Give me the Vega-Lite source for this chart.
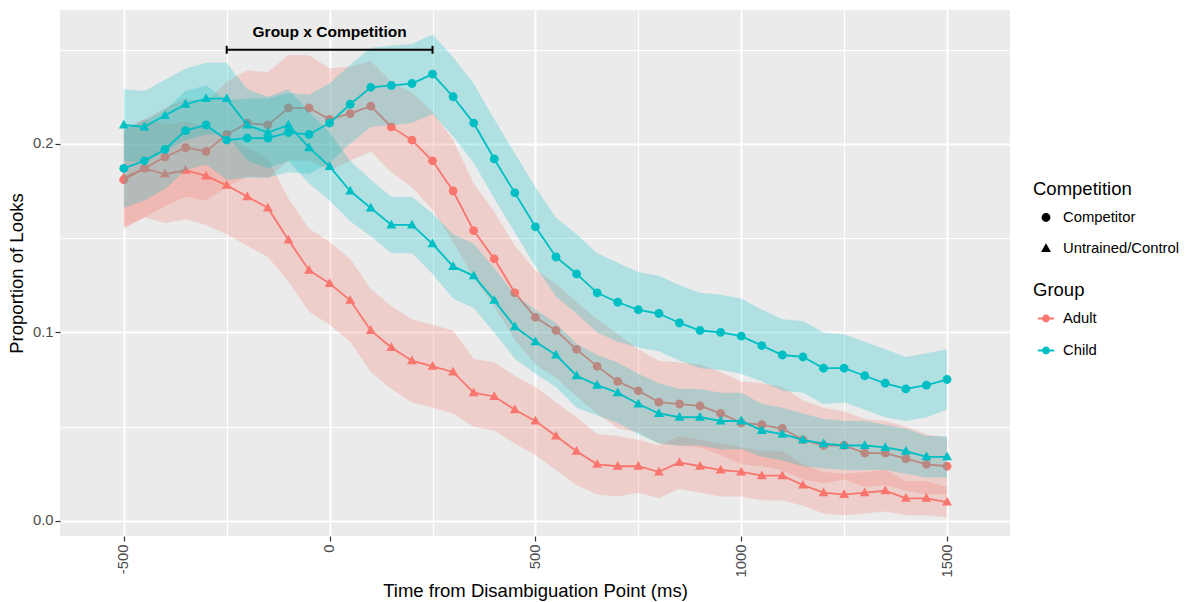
{
  "$schema": "https://vega.github.io/schema/vega-lite/v6.json",
  "width": 950,
  "height": 526,
  "autosize": {"type": "none"},
  "padding": {"left": 60, "top": 10, "right": 181, "bottom": 66},
  "background": "white",
  "config": {
    "font": "Liberation Sans",
    "view": {"fill": "#EBEBEB", "stroke": null},
    "axis": {
      "domain": false,
      "labelFont": "Liberation Sans",
      "labelFontSize": 14.8,
      "labelColor": "#4D4D4D",
      "tickColor": "#333333",
      "tickSize": 5,
      "tickWidth": 1.2,
      "titleFont": "Liberation Sans",
      "titleFontSize": 18.5,
      "titleFontWeight": "normal",
      "titleColor": "#000000",
      "gridColor": "#FFFFFF",
      "gridOpacity": 1
    },
    "legend": {
      "titleFont": "Liberation Sans",
      "labelFont": "Liberation Sans",
      "titleFontSize": 18.5,
      "titleFontWeight": "normal",
      "titleColor": "#000000",
      "labelFontSize": 14.8,
      "labelColor": "#000000"
    }
  },
  "datasets": {
    "ann": [
      {"x1": -250, "x2": 250, "ym": 0.2499, "y1": 0.2478, "y2": 0.2520, "xt": 0, "yt": 0.2566, "label": "Group x Competition"}
    ],
    "main": [
      {"t": -500, "g": "Adult", "c": "Competitor", "y": 0.181, "lo": 0.155, "hi": 0.207},
      {"t": -450, "g": "Adult", "c": "Competitor", "y": 0.187, "lo": 0.161, "hi": 0.213},
      {"t": -400, "g": "Adult", "c": "Competitor", "y": 0.193, "lo": 0.167, "hi": 0.219},
      {"t": -350, "g": "Adult", "c": "Competitor", "y": 0.198, "lo": 0.172, "hi": 0.224},
      {"t": -300, "g": "Adult", "c": "Competitor", "y": 0.196, "lo": 0.170, "hi": 0.222},
      {"t": -250, "g": "Adult", "c": "Competitor", "y": 0.205, "lo": 0.177, "hi": 0.233},
      {"t": -200, "g": "Adult", "c": "Competitor", "y": 0.211, "lo": 0.183, "hi": 0.239},
      {"t": -150, "g": "Adult", "c": "Competitor", "y": 0.210, "lo": 0.182, "hi": 0.238},
      {"t": -100, "g": "Adult", "c": "Competitor", "y": 0.219, "lo": 0.191, "hi": 0.247},
      {"t": -50, "g": "Adult", "c": "Competitor", "y": 0.219, "lo": 0.191, "hi": 0.247},
      {"t": 0, "g": "Adult", "c": "Competitor", "y": 0.213, "lo": 0.186, "hi": 0.240},
      {"t": 50, "g": "Adult", "c": "Competitor", "y": 0.216, "lo": 0.191, "hi": 0.241},
      {"t": 100, "g": "Adult", "c": "Competitor", "y": 0.220, "lo": 0.196, "hi": 0.244},
      {"t": 150, "g": "Adult", "c": "Competitor", "y": 0.209, "lo": 0.185, "hi": 0.233},
      {"t": 200, "g": "Adult", "c": "Competitor", "y": 0.202, "lo": 0.177, "hi": 0.227},
      {"t": 250, "g": "Adult", "c": "Competitor", "y": 0.191, "lo": 0.165, "hi": 0.217},
      {"t": 300, "g": "Adult", "c": "Competitor", "y": 0.175, "lo": 0.148, "hi": 0.202},
      {"t": 350, "g": "Adult", "c": "Competitor", "y": 0.154, "lo": 0.129, "hi": 0.179},
      {"t": 400, "g": "Adult", "c": "Competitor", "y": 0.139, "lo": 0.114, "hi": 0.164},
      {"t": 450, "g": "Adult", "c": "Competitor", "y": 0.121, "lo": 0.096, "hi": 0.146},
      {"t": 500, "g": "Adult", "c": "Competitor", "y": 0.108, "lo": 0.083, "hi": 0.133},
      {"t": 550, "g": "Adult", "c": "Competitor", "y": 0.101, "lo": 0.076, "hi": 0.126},
      {"t": 600, "g": "Adult", "c": "Competitor", "y": 0.091, "lo": 0.066, "hi": 0.116},
      {"t": 650, "g": "Adult", "c": "Competitor", "y": 0.082, "lo": 0.057, "hi": 0.107},
      {"t": 700, "g": "Adult", "c": "Competitor", "y": 0.074, "lo": 0.049, "hi": 0.099},
      {"t": 750, "g": "Adult", "c": "Competitor", "y": 0.069, "lo": 0.047, "hi": 0.091},
      {"t": 800, "g": "Adult", "c": "Competitor", "y": 0.063, "lo": 0.041, "hi": 0.085},
      {"t": 850, "g": "Adult", "c": "Competitor", "y": 0.062, "lo": 0.040, "hi": 0.084},
      {"t": 900, "g": "Adult", "c": "Competitor", "y": 0.061, "lo": 0.039, "hi": 0.083},
      {"t": 950, "g": "Adult", "c": "Competitor", "y": 0.057, "lo": 0.035, "hi": 0.079},
      {"t": 1000, "g": "Adult", "c": "Competitor", "y": 0.052, "lo": 0.030, "hi": 0.074},
      {"t": 1050, "g": "Adult", "c": "Competitor", "y": 0.051, "lo": 0.029, "hi": 0.073},
      {"t": 1100, "g": "Adult", "c": "Competitor", "y": 0.049, "lo": 0.027, "hi": 0.071},
      {"t": 1150, "g": "Adult", "c": "Competitor", "y": 0.043, "lo": 0.022, "hi": 0.064},
      {"t": 1200, "g": "Adult", "c": "Competitor", "y": 0.040, "lo": 0.020, "hi": 0.060},
      {"t": 1250, "g": "Adult", "c": "Competitor", "y": 0.040, "lo": 0.022, "hi": 0.058},
      {"t": 1300, "g": "Adult", "c": "Competitor", "y": 0.036, "lo": 0.018, "hi": 0.054},
      {"t": 1350, "g": "Adult", "c": "Competitor", "y": 0.036, "lo": 0.019, "hi": 0.053},
      {"t": 1400, "g": "Adult", "c": "Competitor", "y": 0.033, "lo": 0.016, "hi": 0.050},
      {"t": 1450, "g": "Adult", "c": "Competitor", "y": 0.030, "lo": 0.014, "hi": 0.046},
      {"t": 1500, "g": "Adult", "c": "Competitor", "y": 0.029, "lo": 0.014, "hi": 0.044},

      {"t": -500, "g": "Adult", "c": "Untrained/Control", "y": 0.182, "lo": 0.156, "hi": 0.208},
      {"t": -450, "g": "Adult", "c": "Untrained/Control", "y": 0.187, "lo": 0.161, "hi": 0.213},
      {"t": -400, "g": "Adult", "c": "Untrained/Control", "y": 0.184, "lo": 0.158, "hi": 0.210},
      {"t": -350, "g": "Adult", "c": "Untrained/Control", "y": 0.186, "lo": 0.160, "hi": 0.212},
      {"t": -300, "g": "Adult", "c": "Untrained/Control", "y": 0.183, "lo": 0.157, "hi": 0.209},
      {"t": -250, "g": "Adult", "c": "Untrained/Control", "y": 0.178, "lo": 0.152, "hi": 0.204},
      {"t": -200, "g": "Adult", "c": "Untrained/Control", "y": 0.172, "lo": 0.146, "hi": 0.198},
      {"t": -150, "g": "Adult", "c": "Untrained/Control", "y": 0.166, "lo": 0.140, "hi": 0.192},
      {"t": -100, "g": "Adult", "c": "Untrained/Control", "y": 0.149, "lo": 0.127, "hi": 0.171},
      {"t": -50, "g": "Adult", "c": "Untrained/Control", "y": 0.133, "lo": 0.111, "hi": 0.155},
      {"t": 0, "g": "Adult", "c": "Untrained/Control", "y": 0.126, "lo": 0.104, "hi": 0.148},
      {"t": 50, "g": "Adult", "c": "Untrained/Control", "y": 0.117, "lo": 0.095, "hi": 0.139},
      {"t": 100, "g": "Adult", "c": "Untrained/Control", "y": 0.101, "lo": 0.079, "hi": 0.123},
      {"t": 150, "g": "Adult", "c": "Untrained/Control", "y": 0.092, "lo": 0.070, "hi": 0.114},
      {"t": 200, "g": "Adult", "c": "Untrained/Control", "y": 0.085, "lo": 0.063, "hi": 0.107},
      {"t": 250, "g": "Adult", "c": "Untrained/Control", "y": 0.082, "lo": 0.060, "hi": 0.104},
      {"t": 300, "g": "Adult", "c": "Untrained/Control", "y": 0.079, "lo": 0.057, "hi": 0.101},
      {"t": 350, "g": "Adult", "c": "Untrained/Control", "y": 0.068, "lo": 0.050, "hi": 0.086},
      {"t": 400, "g": "Adult", "c": "Untrained/Control", "y": 0.066, "lo": 0.048, "hi": 0.084},
      {"t": 450, "g": "Adult", "c": "Untrained/Control", "y": 0.059, "lo": 0.041, "hi": 0.077},
      {"t": 500, "g": "Adult", "c": "Untrained/Control", "y": 0.053, "lo": 0.035, "hi": 0.071},
      {"t": 550, "g": "Adult", "c": "Untrained/Control", "y": 0.045, "lo": 0.027, "hi": 0.063},
      {"t": 600, "g": "Adult", "c": "Untrained/Control", "y": 0.037, "lo": 0.019, "hi": 0.055},
      {"t": 650, "g": "Adult", "c": "Untrained/Control", "y": 0.030, "lo": 0.014, "hi": 0.046},
      {"t": 700, "g": "Adult", "c": "Untrained/Control", "y": 0.029, "lo": 0.013, "hi": 0.045},
      {"t": 750, "g": "Adult", "c": "Untrained/Control", "y": 0.029, "lo": 0.015, "hi": 0.043},
      {"t": 800, "g": "Adult", "c": "Untrained/Control", "y": 0.026, "lo": 0.012, "hi": 0.040},
      {"t": 850, "g": "Adult", "c": "Untrained/Control", "y": 0.031, "lo": 0.017, "hi": 0.045},
      {"t": 900, "g": "Adult", "c": "Untrained/Control", "y": 0.029, "lo": 0.015, "hi": 0.043},
      {"t": 950, "g": "Adult", "c": "Untrained/Control", "y": 0.027, "lo": 0.013, "hi": 0.041},
      {"t": 1000, "g": "Adult", "c": "Untrained/Control", "y": 0.026, "lo": 0.013, "hi": 0.039},
      {"t": 1050, "g": "Adult", "c": "Untrained/Control", "y": 0.024, "lo": 0.011, "hi": 0.037},
      {"t": 1100, "g": "Adult", "c": "Untrained/Control", "y": 0.024, "lo": 0.011, "hi": 0.037},
      {"t": 1150, "g": "Adult", "c": "Untrained/Control", "y": 0.019, "lo": 0.008, "hi": 0.030},
      {"t": 1200, "g": "Adult", "c": "Untrained/Control", "y": 0.015, "lo": 0.004, "hi": 0.026},
      {"t": 1250, "g": "Adult", "c": "Untrained/Control", "y": 0.014, "lo": 0.003, "hi": 0.025},
      {"t": 1300, "g": "Adult", "c": "Untrained/Control", "y": 0.015, "lo": 0.004, "hi": 0.026},
      {"t": 1350, "g": "Adult", "c": "Untrained/Control", "y": 0.016, "lo": 0.005, "hi": 0.027},
      {"t": 1400, "g": "Adult", "c": "Untrained/Control", "y": 0.012, "lo": 0.003, "hi": 0.021},
      {"t": 1450, "g": "Adult", "c": "Untrained/Control", "y": 0.012, "lo": 0.003, "hi": 0.021},
      {"t": 1500, "g": "Adult", "c": "Untrained/Control", "y": 0.010, "lo": 0.002, "hi": 0.018},

      {"t": -500, "g": "Child", "c": "Competitor", "y": 0.187, "lo": 0.166, "hi": 0.208},
      {"t": -450, "g": "Child", "c": "Competitor", "y": 0.191, "lo": 0.170, "hi": 0.212},
      {"t": -400, "g": "Child", "c": "Competitor", "y": 0.197, "lo": 0.176, "hi": 0.218},
      {"t": -350, "g": "Child", "c": "Competitor", "y": 0.207, "lo": 0.186, "hi": 0.228},
      {"t": -300, "g": "Child", "c": "Competitor", "y": 0.210, "lo": 0.189, "hi": 0.231},
      {"t": -250, "g": "Child", "c": "Competitor", "y": 0.202, "lo": 0.181, "hi": 0.223},
      {"t": -200, "g": "Child", "c": "Competitor", "y": 0.203, "lo": 0.182, "hi": 0.224},
      {"t": -150, "g": "Child", "c": "Competitor", "y": 0.203, "lo": 0.182, "hi": 0.224},
      {"t": -100, "g": "Child", "c": "Competitor", "y": 0.206, "lo": 0.185, "hi": 0.227},
      {"t": -50, "g": "Child", "c": "Competitor", "y": 0.205, "lo": 0.184, "hi": 0.226},
      {"t": 0, "g": "Child", "c": "Competitor", "y": 0.211, "lo": 0.190, "hi": 0.232},
      {"t": 50, "g": "Child", "c": "Competitor", "y": 0.221, "lo": 0.200, "hi": 0.242},
      {"t": 100, "g": "Child", "c": "Competitor", "y": 0.230, "lo": 0.209, "hi": 0.251},
      {"t": 150, "g": "Child", "c": "Competitor", "y": 0.231, "lo": 0.210, "hi": 0.252},
      {"t": 200, "g": "Child", "c": "Competitor", "y": 0.232, "lo": 0.211, "hi": 0.253},
      {"t": 250, "g": "Child", "c": "Competitor", "y": 0.237, "lo": 0.216, "hi": 0.258},
      {"t": 300, "g": "Child", "c": "Competitor", "y": 0.225, "lo": 0.204, "hi": 0.246},
      {"t": 350, "g": "Child", "c": "Competitor", "y": 0.211, "lo": 0.190, "hi": 0.232},
      {"t": 400, "g": "Child", "c": "Competitor", "y": 0.192, "lo": 0.171, "hi": 0.213},
      {"t": 450, "g": "Child", "c": "Competitor", "y": 0.174, "lo": 0.153, "hi": 0.195},
      {"t": 500, "g": "Child", "c": "Competitor", "y": 0.156, "lo": 0.135, "hi": 0.177},
      {"t": 550, "g": "Child", "c": "Competitor", "y": 0.140, "lo": 0.119, "hi": 0.161},
      {"t": 600, "g": "Child", "c": "Competitor", "y": 0.131, "lo": 0.110, "hi": 0.152},
      {"t": 650, "g": "Child", "c": "Competitor", "y": 0.121, "lo": 0.100, "hi": 0.142},
      {"t": 700, "g": "Child", "c": "Competitor", "y": 0.116, "lo": 0.095, "hi": 0.137},
      {"t": 750, "g": "Child", "c": "Competitor", "y": 0.112, "lo": 0.092, "hi": 0.132},
      {"t": 800, "g": "Child", "c": "Competitor", "y": 0.110, "lo": 0.090, "hi": 0.130},
      {"t": 850, "g": "Child", "c": "Competitor", "y": 0.105, "lo": 0.085, "hi": 0.125},
      {"t": 900, "g": "Child", "c": "Competitor", "y": 0.101, "lo": 0.081, "hi": 0.121},
      {"t": 950, "g": "Child", "c": "Competitor", "y": 0.100, "lo": 0.080, "hi": 0.120},
      {"t": 1000, "g": "Child", "c": "Competitor", "y": 0.098, "lo": 0.078, "hi": 0.118},
      {"t": 1050, "g": "Child", "c": "Competitor", "y": 0.093, "lo": 0.074, "hi": 0.112},
      {"t": 1100, "g": "Child", "c": "Competitor", "y": 0.088, "lo": 0.069, "hi": 0.107},
      {"t": 1150, "g": "Child", "c": "Competitor", "y": 0.087, "lo": 0.068, "hi": 0.106},
      {"t": 1200, "g": "Child", "c": "Competitor", "y": 0.081, "lo": 0.062, "hi": 0.100},
      {"t": 1250, "g": "Child", "c": "Competitor", "y": 0.081, "lo": 0.063, "hi": 0.099},
      {"t": 1300, "g": "Child", "c": "Competitor", "y": 0.077, "lo": 0.059, "hi": 0.095},
      {"t": 1350, "g": "Child", "c": "Competitor", "y": 0.073, "lo": 0.055, "hi": 0.091},
      {"t": 1400, "g": "Child", "c": "Competitor", "y": 0.070, "lo": 0.053, "hi": 0.087},
      {"t": 1450, "g": "Child", "c": "Competitor", "y": 0.072, "lo": 0.055, "hi": 0.089},
      {"t": 1500, "g": "Child", "c": "Competitor", "y": 0.075, "lo": 0.059, "hi": 0.091},

      {"t": -500, "g": "Child", "c": "Untrained/Control", "y": 0.210, "lo": 0.191, "hi": 0.229},
      {"t": -450, "g": "Child", "c": "Untrained/Control", "y": 0.209, "lo": 0.190, "hi": 0.228},
      {"t": -400, "g": "Child", "c": "Untrained/Control", "y": 0.215, "lo": 0.196, "hi": 0.234},
      {"t": -350, "g": "Child", "c": "Untrained/Control", "y": 0.221, "lo": 0.202, "hi": 0.240},
      {"t": -300, "g": "Child", "c": "Untrained/Control", "y": 0.224, "lo": 0.205, "hi": 0.243},
      {"t": -250, "g": "Child", "c": "Untrained/Control", "y": 0.224, "lo": 0.205, "hi": 0.243},
      {"t": -200, "g": "Child", "c": "Untrained/Control", "y": 0.210, "lo": 0.191, "hi": 0.229},
      {"t": -150, "g": "Child", "c": "Untrained/Control", "y": 0.206, "lo": 0.187, "hi": 0.225},
      {"t": -100, "g": "Child", "c": "Untrained/Control", "y": 0.210, "lo": 0.191, "hi": 0.229},
      {"t": -50, "g": "Child", "c": "Untrained/Control", "y": 0.198, "lo": 0.179, "hi": 0.217},
      {"t": 0, "g": "Child", "c": "Untrained/Control", "y": 0.188, "lo": 0.170, "hi": 0.206},
      {"t": 50, "g": "Child", "c": "Untrained/Control", "y": 0.175, "lo": 0.159, "hi": 0.191},
      {"t": 100, "g": "Child", "c": "Untrained/Control", "y": 0.166, "lo": 0.151, "hi": 0.181},
      {"t": 150, "g": "Child", "c": "Untrained/Control", "y": 0.157, "lo": 0.142, "hi": 0.172},
      {"t": 200, "g": "Child", "c": "Untrained/Control", "y": 0.157, "lo": 0.142, "hi": 0.172},
      {"t": 250, "g": "Child", "c": "Untrained/Control", "y": 0.147, "lo": 0.131, "hi": 0.163},
      {"t": 300, "g": "Child", "c": "Untrained/Control", "y": 0.135, "lo": 0.118, "hi": 0.152},
      {"t": 350, "g": "Child", "c": "Untrained/Control", "y": 0.130, "lo": 0.113, "hi": 0.147},
      {"t": 400, "g": "Child", "c": "Untrained/Control", "y": 0.117, "lo": 0.100, "hi": 0.134},
      {"t": 450, "g": "Child", "c": "Untrained/Control", "y": 0.103, "lo": 0.086, "hi": 0.120},
      {"t": 500, "g": "Child", "c": "Untrained/Control", "y": 0.095, "lo": 0.078, "hi": 0.112},
      {"t": 550, "g": "Child", "c": "Untrained/Control", "y": 0.088, "lo": 0.071, "hi": 0.105},
      {"t": 600, "g": "Child", "c": "Untrained/Control", "y": 0.077, "lo": 0.060, "hi": 0.094},
      {"t": 650, "g": "Child", "c": "Untrained/Control", "y": 0.072, "lo": 0.056, "hi": 0.088},
      {"t": 700, "g": "Child", "c": "Untrained/Control", "y": 0.068, "lo": 0.052, "hi": 0.084},
      {"t": 750, "g": "Child", "c": "Untrained/Control", "y": 0.062, "lo": 0.046, "hi": 0.078},
      {"t": 800, "g": "Child", "c": "Untrained/Control", "y": 0.057, "lo": 0.041, "hi": 0.073},
      {"t": 850, "g": "Child", "c": "Untrained/Control", "y": 0.055, "lo": 0.040, "hi": 0.070},
      {"t": 900, "g": "Child", "c": "Untrained/Control", "y": 0.055, "lo": 0.040, "hi": 0.070},
      {"t": 950, "g": "Child", "c": "Untrained/Control", "y": 0.053, "lo": 0.038, "hi": 0.068},
      {"t": 1000, "g": "Child", "c": "Untrained/Control", "y": 0.053, "lo": 0.038, "hi": 0.068},
      {"t": 1050, "g": "Child", "c": "Untrained/Control", "y": 0.048, "lo": 0.034, "hi": 0.062},
      {"t": 1100, "g": "Child", "c": "Untrained/Control", "y": 0.046, "lo": 0.032, "hi": 0.060},
      {"t": 1150, "g": "Child", "c": "Untrained/Control", "y": 0.043, "lo": 0.029, "hi": 0.057},
      {"t": 1200, "g": "Child", "c": "Untrained/Control", "y": 0.041, "lo": 0.028, "hi": 0.054},
      {"t": 1250, "g": "Child", "c": "Untrained/Control", "y": 0.040, "lo": 0.027, "hi": 0.053},
      {"t": 1300, "g": "Child", "c": "Untrained/Control", "y": 0.040, "lo": 0.027, "hi": 0.053},
      {"t": 1350, "g": "Child", "c": "Untrained/Control", "y": 0.039, "lo": 0.027, "hi": 0.051},
      {"t": 1400, "g": "Child", "c": "Untrained/Control", "y": 0.037, "lo": 0.025, "hi": 0.049},
      {"t": 1450, "g": "Child", "c": "Untrained/Control", "y": 0.034, "lo": 0.023, "hi": 0.045},
      {"t": 1500, "g": "Child", "c": "Untrained/Control", "y": 0.034, "lo": 0.023, "hi": 0.045}
    ]
  },
  "layer": [
    {
      "data": {"name": "main"},
      "transform": [{"filter": "datum.g === 'Adult'"}],
      "mark": {"type": "area", "opacity": 0.25, "interpolate": "linear"},
      "encoding": {
        "x": {
          "field": "t",
          "type": "quantitative",
          "title": "Time from Disambiguation Point (ms)",
          "scale": {"domain": [-655, 1653], "nice": false, "zero": false},
          "axis": {
            "title": "Time from Disambiguation Point (ms)",
            "values": [-500, -250, 0, 250, 500, 750, 1000, 1250, 1500],
            "labelExpr": "datum.value % 500 === 0 ? '' + datum.value : ''",
            "labelAngle": 270,
            "labelOverlap": false,
            "labelFlush": false,
            "labelPadding": 3,
            "titlePadding": 5,
            "grid": true,
            "gridWidth": {"condition": {"test": "datum.value % 500 === 0", "value": 2}, "value": 1},
            "tickOpacity": {"condition": {"test": "datum.value % 500 === 0", "value": 1}, "value": 0}
          }
        },
        "y": {
          "field": "lo",
          "type": "quantitative",
          "stack": null,
          "title": "Proportion of Looks",
          "scale": {"domain": [-0.008, 0.271], "nice": false, "zero": false},
          "axis": {
            "title": "Proportion of Looks",
            "values": [0, 0.05, 0.1, 0.15, 0.2, 0.25],
            "labelExpr": "round(datum.value * 100) % 10 === 0 ? format(datum.value, '.1f') : ''",
            "labelOverlap": false,
            "labelFlush": false,
            "labelPadding": 2,
            "titlePadding": 6,
            "grid": true,
            "gridWidth": {"condition": {"test": "round(datum.value * 100) % 10 === 0", "value": 2}, "value": 1},
            "tickOpacity": {"condition": {"test": "round(datum.value * 100) % 10 === 0", "value": 1}, "value": 0}
          }
        },
        "y2": {"field": "hi"},
        "color": {
          "field": "g", "type": "nominal", "title": "Group",
          "scale": {"domain": ["Adult", "Child"], "range": ["#F8766D", "#00BFC4"]},
          "legend": {
            "title": "Group", "orient": "none", "legendX": 973, "legendY": 271,
            "symbolType": "M-0.62,-0.07L0.62,-0.07L0.62,0.07L-0.62,0.07Z M0.3,0A0.3,0.3,0,1,1,-0.3,0A0.3,0.3,0,1,1,0.3,0Z",
            "symbolSize": 676, "symbolStrokeWidth": 0, "symbolOpacity": 1,
            "rowPadding": 12, "titlePadding": 6, "labelOffset": 4
          }
        },
        "detail": {"field": "c"}
      }
    },
    {
      "data": {"name": "main"},
      "transform": [{"filter": "datum.g === 'Adult'"}],
      "mark": {"type": "line", "strokeWidth": 1.8},
      "encoding": {
        "x": {"field": "t", "type": "quantitative", "title": "Time from Disambiguation Point (ms)"},
        "y": {"field": "y", "type": "quantitative", "title": "Proportion of Looks"},
        "color": {"field": "g", "type": "nominal", "title": "Group"},
        "detail": {"field": "c"}
      }
    },
    {
      "data": {"name": "main"},
      "transform": [{"filter": "datum.g === 'Adult'"}],
      "mark": {"type": "point", "filled": true, "opacity": 1, "size": 676, "strokeWidth": 0},
      "encoding": {
        "x": {"field": "t", "type": "quantitative", "title": "Time from Disambiguation Point (ms)"},
        "y": {"field": "y", "type": "quantitative", "title": "Proportion of Looks"},
        "color": {"field": "g", "type": "nominal", "title": "Group"},
        "shape": {
          "field": "c", "type": "nominal", "title": "Competition",
          "scale": {"domain": ["Competitor", "Untrained/Control"], "range": ["M0.34,0A0.34,0.34,0,1,1,-0.34,0A0.34,0.34,0,1,1,0.34,0Z", "M0,-0.4L0.38,0.27L-0.38,0.27Z"]},
          "legend": {
            "title": "Competition", "orient": "none", "legendX": 973, "legendY": 170,
            "symbolSize": 676, "symbolFillColor": "#000000", "symbolStrokeWidth": 0, "symbolOpacity": 1,
            "rowPadding": 11, "titlePadding": 6, "labelOffset": 4
          }
        }
      }
    },
    {
      "data": {"name": "main"},
      "transform": [{"filter": "datum.g === 'Child'"}],
      "mark": {"type": "area", "opacity": 0.25, "interpolate": "linear"},
      "encoding": {
        "x": {"field": "t", "type": "quantitative", "title": "Time from Disambiguation Point (ms)"},
        "y": {"field": "lo", "type": "quantitative", "stack": null, "title": "Proportion of Looks"},
        "y2": {"field": "hi"},
        "color": {"field": "g", "type": "nominal", "title": "Group"},
        "detail": {"field": "c"}
      }
    },
    {
      "data": {"name": "main"},
      "transform": [{"filter": "datum.g === 'Child'"}],
      "mark": {"type": "line", "strokeWidth": 1.8},
      "encoding": {
        "x": {"field": "t", "type": "quantitative", "title": "Time from Disambiguation Point (ms)"},
        "y": {"field": "y", "type": "quantitative", "title": "Proportion of Looks"},
        "color": {"field": "g", "type": "nominal", "title": "Group"},
        "detail": {"field": "c"}
      }
    },
    {
      "data": {"name": "main"},
      "transform": [{"filter": "datum.g === 'Child'"}],
      "mark": {"type": "point", "filled": true, "opacity": 1, "size": 676, "strokeWidth": 0},
      "encoding": {
        "x": {"field": "t", "type": "quantitative", "title": "Time from Disambiguation Point (ms)"},
        "y": {"field": "y", "type": "quantitative", "title": "Proportion of Looks"},
        "color": {"field": "g", "type": "nominal", "title": "Group"},
        "shape": {"field": "c", "type": "nominal", "title": "Competition"}
      }
    },
    {
      "data": {"name": "ann"},
      "mark": {"type": "rule", "color": "#000000", "strokeWidth": 2},
      "encoding": {
        "x": {"field": "x1", "type": "quantitative", "title": "Time from Disambiguation Point (ms)"},
        "x2": {"field": "x2"},
        "y": {"field": "ym", "type": "quantitative", "title": "Proportion of Looks"}
      }
    },
    {
      "data": {"name": "ann"},
      "mark": {"type": "rule", "color": "#000000", "strokeWidth": 2},
      "encoding": {
        "x": {"field": "x1", "type": "quantitative", "title": "Time from Disambiguation Point (ms)"},
        "y": {"field": "y1", "type": "quantitative", "title": "Proportion of Looks"},
        "y2": {"field": "y2"}
      }
    },
    {
      "data": {"name": "ann"},
      "mark": {"type": "rule", "color": "#000000", "strokeWidth": 2},
      "encoding": {
        "x": {"field": "x2", "type": "quantitative", "title": "Time from Disambiguation Point (ms)"},
        "y": {"field": "y1", "type": "quantitative", "title": "Proportion of Looks"},
        "y2": {"field": "y2"}
      }
    },
    {
      "data": {"name": "ann"},
      "mark": {"type": "text", "fontSize": 15.5, "fontWeight": "bold", "color": "#000000", "baseline": "alphabetic", "align": "center", "font": "Liberation Sans"},
      "encoding": {
        "x": {"field": "xt", "type": "quantitative", "title": "Time from Disambiguation Point (ms)"},
        "y": {"field": "yt", "type": "quantitative", "title": "Proportion of Looks"},
        "text": {"field": "label"}
      }
    }
  ]
}
